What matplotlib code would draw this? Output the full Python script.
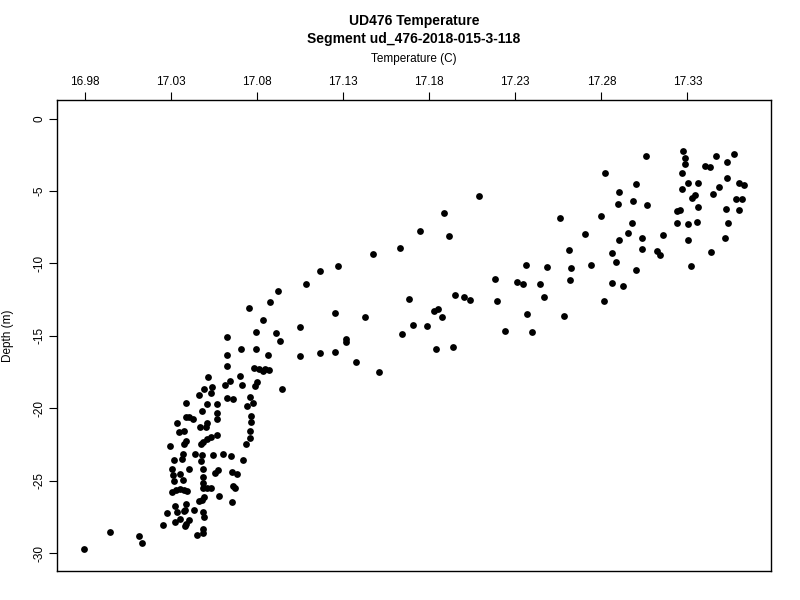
import matplotlib
matplotlib.use("Agg")
import matplotlib.pyplot as plt

plt.rcParams['font.family'] = ['Liberation Sans', 'DejaVu Sans']

title_lines = ["UD476 Temperature", "Segment ud_476-2018-015-3-118"]
x_label = "Temperature (C)"
y_label = "Depth (m)"

x_ticks = [16.98, 17.03, 17.08, 17.13, 17.18, 17.23, 17.28, 17.33]
x_tick_labels = ["16.98", "17.03", "17.08", "17.13", "17.18", "17.23", "17.28", "17.33"]
y_ticks = [0, -5, -10, -15, -20, -25, -30]
y_tick_labels = ["0", "-5", "-10", "-15", "-20", "-25", "-30"]

temperature = [
    17.0921, 17.0877, 17.0757, 17.0834, 17.1048, 17.0794, 17.0913, 17.0629, 17.0935, 17.0708,
    17.0794, 17.0627, 17.0863, 17.1048, 17.0627, 17.0786, 17.0815, 17.0834, 17.0849, 17.0869,
    17.0515, 17.0701, 17.0645, 17.0615, 17.0803, 17.0791, 17.0714, 17.0542, 17.0494, 17.0534,
    17.0945, 17.0463, 17.0625, 17.0660, 17.0762, 17.0778, 17.0743, 17.0387, 17.0513, 17.0567,
    17.0482, 17.0571, 17.0389, 17.0408, 17.0428, 17.0764, 17.0569, 17.0766, 17.0337, 17.0509,
    17.0505, 17.0470, 17.0376, 17.0350, 17.0761, 17.0761, 17.0569, 17.0534, 17.0513, 17.0490,
    17.0476, 17.0389, 17.0378, 17.0298, 17.0739, 17.0440, 17.0480, 17.0476, 17.0370, 17.0366,
    17.0544, 17.0606, 17.0649, 17.0720, 17.0319, 17.0408, 17.0486, 17.0310, 17.0312, 17.0319,
    17.0356, 17.0372, 17.0575, 17.0556, 17.0654, 17.0687, 17.0486, 17.0490, 17.0486, 17.0511,
    17.0532, 17.0310, 17.0331, 17.0354, 17.0378, 17.0397, 17.0664, 17.0672, 17.0579, 17.0492,
    17.0484, 17.0466, 17.0658, 17.0327, 17.0335, 17.0389, 17.0385, 17.0376, 17.0434, 17.0277,
    17.0486, 17.0494, 17.0353, 17.0324, 17.0408, 17.0389, 17.0383, 17.0256, 17.0486, 17.0488,
    17.0451, 16.9950, 17.0115, 17.0132, 16.9797, 17.2087, 17.1888, 17.1749, 17.1917, 17.1631,
    17.1475, 17.1271, 17.1165, 17.1087, 17.1685, 17.1949, 17.2004, 17.2039, 17.1256, 17.1430,
    17.1829, 17.1850, 17.1875, 17.1705, 17.1788, 17.1641, 17.1318, 17.1318, 17.1842, 17.1939,
    17.1169, 17.1254, 17.1376, 17.1509, 17.2999, 17.2904, 17.2897, 17.2985, 17.2796, 17.2562,
    17.2980, 17.2955, 17.2703, 17.2901, 17.2614, 17.2862, 17.2885, 17.2364, 17.2484, 17.2624,
    17.2740, 17.2999, 17.2183, 17.2309, 17.2345, 17.2442, 17.2620, 17.2863, 17.2924, 17.2467,
    17.2194, 17.2813, 17.2367, 17.2583, 17.2242, 17.2397, 17.3061, 17.2821, 17.3063, 17.3038,
    17.3160, 17.3038, 17.3125, 17.3140, 17.3272, 17.3287, 17.3284, 17.3268, 17.3464, 17.3568,
    17.3529, 17.3400, 17.3432, 17.3527, 17.3301, 17.3361, 17.3268, 17.3485, 17.3599, 17.3630,
    17.3345, 17.3328, 17.3450, 17.3583, 17.3618, 17.3363, 17.3237, 17.3256, 17.3522, 17.3599,
    17.3241, 17.3303, 17.3353, 17.3535, 17.3516, 17.3303, 17.3436, 17.3322,
]

depth = [
    -11.90, -12.68, -13.10, -13.89, -14.37, -14.76, -14.82, -15.10, -15.33, -15.91,
    -15.93, -16.30, -16.32, -16.37, -17.06, -17.20, -17.31, -17.41, -17.27, -17.36,
    -17.82, -17.79, -18.12, -18.37, -18.21, -18.46, -18.41, -18.55, -18.67, -18.92,
    -18.65, -19.10, -19.29, -19.38, -19.24, -19.61, -19.84, -19.66, -19.70, -19.70,
    -20.21, -20.35, -20.57, -20.59, -20.76, -20.53, -20.74, -20.97, -21.04, -20.99,
    -21.27, -21.27, -21.59, -21.66, -21.57, -22.03, -21.86, -21.96, -22.12, -22.31,
    -22.48, -22.28, -22.46, -22.58, -22.48, -23.13, -23.24, -23.64, -23.17, -23.50,
    -23.24, -23.13, -23.31, -23.55, -23.59, -24.21, -24.21, -24.21, -24.60, -25.00,
    -24.55, -24.97, -24.24, -24.49, -24.38, -24.51, -24.72, -25.13, -25.48, -25.52,
    -25.50, -25.80, -25.64, -25.57, -25.66, -25.73, -25.34, -25.52, -26.03, -26.14,
    -26.33, -26.38, -26.45, -26.76, -27.14, -26.58, -27.00, -27.09, -27.02, -27.21,
    -27.16, -27.48, -27.66, -27.87, -27.73, -27.98, -28.12, -28.07, -28.31, -28.63,
    -28.76, -28.54, -28.81, -29.28, -29.71, -5.33, -6.52, -7.74, -8.09, -8.94,
    -9.33, -10.20, -10.55, -11.40, -12.48, -12.20, -12.32, -12.55, -13.40, -13.68,
    -13.26, -13.17, -13.72, -14.25, -14.34, -14.89, -15.20, -15.40, -15.91, -15.75,
    -16.16, -16.14, -16.78, -17.47, -4.52, -5.05, -5.90, -5.67, -6.71, -6.89,
    -7.19, -7.92, -7.95, -8.39, -9.05, -9.26, -9.92, -10.09, -10.27, -10.30,
    -10.11, -10.46, -11.10, -11.26, -11.42, -11.44, -11.12, -11.33, -11.54, -12.30,
    -12.57, -12.59, -13.49, -13.61, -14.69, -14.73, -2.57, -3.74, -5.99, -8.23,
    -8.04, -8.99, -9.14, -9.40, -2.22, -2.73, -3.14, -3.76, -2.57, -2.43,
    -3.00, -3.30, -3.37, -4.09, -4.43, -4.43, -4.87, -4.71, -4.47, -4.61,
    -5.30, -5.51, -5.19, -5.58, -5.56, -6.09, -6.38, -6.34, -6.27, -6.34,
    -7.23, -7.30, -7.12, -7.23, -8.25, -8.36, -9.19, -10.16,
]

fig = plt.figure(figsize=(8, 6), dpi=100)
ax = fig.add_axes([57 / 800, 1 - 571 / 600, (771 - 57) / 800, (571 - 100) / 600])

ax.plot(temperature, depth, linestyle='none', marker='o', markersize=4.9,
        color='black', markeredgewidth=0)

ax.set_xlim(16.964, 17.3785)
ax.set_ylim(-31.23, 1.28)

ax.xaxis.tick_top()
ax.set_xticks(x_ticks)
ax.set_xticklabels(x_tick_labels)
ax.set_yticks(y_ticks)
ax.set_yticklabels(y_tick_labels, rotation=90, va='center')

ax.tick_params(axis='x', direction='out', length=5.5, width=0.8, pad=3.0,
               labelsize=8.5, top=True, bottom=False)
ax.tick_params(axis='y', direction='out', length=5.5, width=0.8, pad=2.5,
               labelsize=8.5, left=True, right=False)
for s in ax.spines.values():
    s.set_linewidth(1.0)
    s.set_color('black')

cx = (57 + 771) / 2 / 800
fig.text(cx, 1 - 20.5 / 600, title_lines[0], ha='center', va='center',
         fontsize=10, fontweight='bold')
fig.text(cx, 1 - 38.5 / 600, title_lines[1], ha='center', va='center',
         fontsize=10, fontweight='bold')
fig.text(cx, 1 - 59 / 600, x_label, ha='center', va='center', fontsize=8.5)
fig.text(8.5 / 800, 1 - 335.5 / 600, y_label, ha='center', va='center',
         rotation=90, fontsize=8.5)

fig.savefig("out.png", dpi=100)
